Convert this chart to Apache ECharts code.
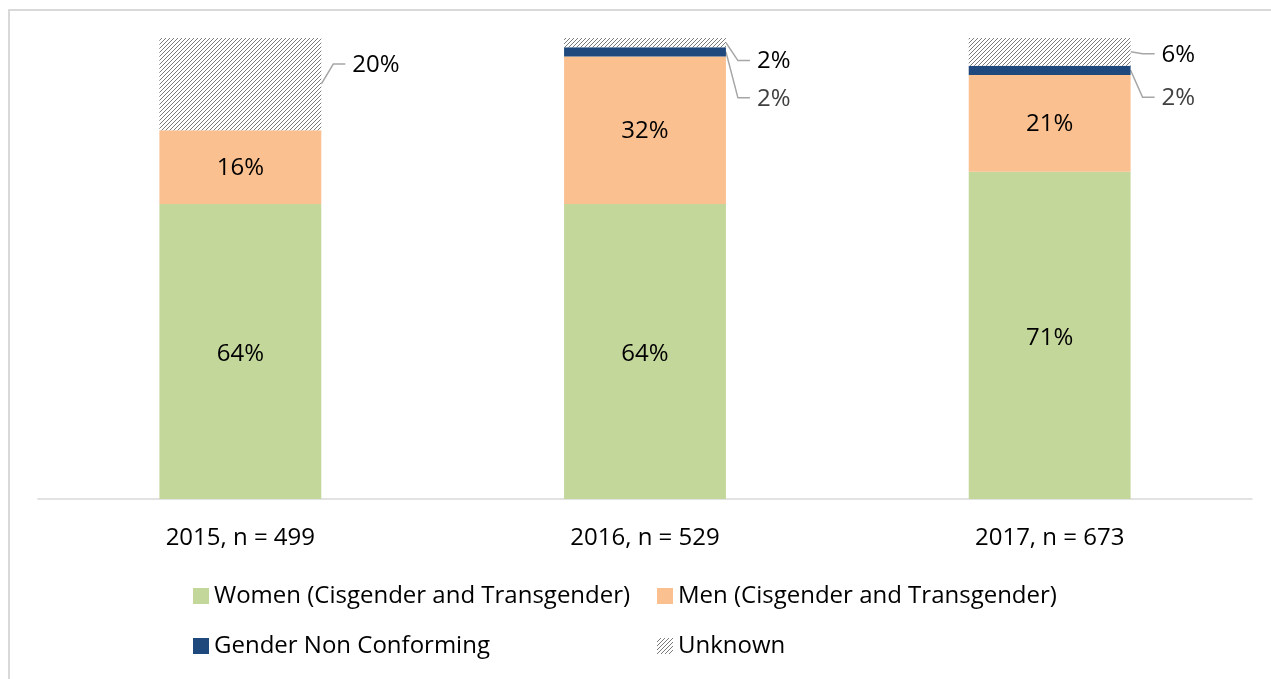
<!DOCTYPE html>
<html>
<head>
<meta charset="utf-8">
<script src="https://cdn.jsdelivr.net/npm/echarts@6/dist/echarts.min.js"></script>
<style>
  html, body { margin: 0; padding: 0; background: #fff; }
  #main { width: 1271px; height: 679px; }
</style>
</head>
<body>
<div id="main"></div>
<script>
// ---- data ----
const categories = ['2015, n = 499', '2016, n = 529', '2017, n = 673'];
const women = [64, 64, 71];
const men = [16, 32, 21];
const gnc = [0, 2, 2];
const unknown = [20, 2, 6];

// ---- layout for outside labels (pixel offsets of label from segment middle) ----
const unknownLabelDy = [-20, 18, 2];
const gncLabelDy = [null, 46, 27];

const FONT = 'Open Sans';
const FS = 24;

// hatch pattern
function makeHatch(color, size) {
  const c = document.createElement('canvas');
  c.width = size; c.height = size;
  const g = c.getContext('2d');
  g.fillStyle = '#fff';
  g.fillRect(0, 0, size, size);
  g.strokeStyle = color;
  g.lineWidth = 1;
  g.beginPath();
  g.moveTo(-1, size + 1); g.lineTo(size + 1, -1);
  g.moveTo(-1, 1); g.lineTo(1, -1);
  g.moveTo(size - 1, size + 1); g.lineTo(size + 1, size - 1);
  g.stroke();
  return c;
}
const hatch = makeHatch('#7a7a7a', 4);

// outside label items: [catIndex, segmentMid, labelValue, dy, kind]
const outsideItems = [];
categories.forEach((c, i) => {
  const base = women[i] + men[i];
  if (gnc[i] > 0 && gncLabelDy[i] !== null) {
    outsideItems.push([i, base + gnc[i] / 2, gnc[i], gncLabelDy[i], 1]);
  }
  outsideItems.push([i, base + gnc[i] + unknown[i] / 2, unknown[i], unknownLabelDy[i], 0]);
});
const outsideColors = ['#000000', '#404040'];

const chart = echarts.init(document.getElementById('main'));
const insideLabel = {
  show: true,
  position: 'inside',
  formatter: p => p.value + '%',
  color: '#000',
  fontFamily: FONT,
  fontSize: FS
};

const legendBase = {
  orient: 'vertical',
  top: 584,
  padding: 0,
  itemWidth: 16, itemHeight: 16, itemGap: 26,
  selectedMode: false,
  icon: 'rect',
  textStyle: { color: '#000', fontFamily: FONT, fontSize: FS, lineHeight: 24 }
};

chart.setOption({
  animation: false,
  textStyle: { fontFamily: FONT },
  graphic: [{
    type: 'rect',
    shape: { x: 9, y: 10, width: 1300, height: 700 },
    style: { fill: 'none', stroke: '#d9d9d9', lineWidth: 2 },
    silent: true
  }],
  grid: { left: 38, right: 19, top: 38, bottom: 180 },
  xAxis: {
    type: 'category',
    data: categories,
    axisLine: { lineStyle: { color: '#d9d9d9', width: 1.5 } },
    axisTick: { show: false },
    axisLabel: { color: '#000', fontFamily: FONT, fontSize: FS, margin: 27 }
  },
  yAxis: {
    type: 'value', min: 0, max: 100, show: false,
    splitLine: { show: false }
  },
  legend: [Object.assign({}, legendBase, {
    left: 193,
    data: ['Women (Cisgender and Transgender)', 'Gender Non Conforming']
  }), Object.assign({}, legendBase, {
    left: 657,
    data: ['Men (Cisgender and Transgender)', 'Unknown']
  })],
  series: [{
    name: 'Women (Cisgender and Transgender)',
    type: 'bar', stack: 'g', barWidth: '40%',
    itemStyle: { color: '#c4d79b' },
    label: Object.assign({}, insideLabel, { offset: [0, 3] }),
    data: women
  }, {
    name: 'Men (Cisgender and Transgender)',
    type: 'bar', stack: 'g',
    itemStyle: { color: '#fac090' },
    label: Object.assign({}, insideLabel, { offset: [0, 1] }),
    data: men
  }, {
    name: 'Gender Non Conforming',
    type: 'bar', stack: 'g',
    itemStyle: { color: '#1f497d' },
    data: gnc
  }, {
    name: 'Unknown',
    type: 'bar', stack: 'g',
    itemStyle: { color: { image: hatch, repeat: 'repeat' } },
    data: unknown
  }, {
    name: 'outsideLabels',
    type: 'custom',
    clip: false,
    silent: true,
    data: outsideItems,
    renderItem: function (params, api) {
      const c = api.coord([api.value(0), api.value(1)]);
      const half = api.size([1, 0])[0] * 0.2;
      const x0 = c[0] + half;
      const y0 = c[1];
      const y1 = y0 + api.value(3);
      const kind = api.value(4);
      return {
        type: 'group',
        children: [{
          type: 'polyline',
          shape: { points: [[x0, y0], [x0 + 12, y1], [x0 + 24, y1]] },
          style: { stroke: '#a6a6a6', lineWidth: 1.5, fill: null }
        }, {
          type: 'text',
          x: x0 + 31, y: y1 + 1,
          style: {
            text: api.value(2) + '%',
            fill: outsideColors[kind],
            font: FS + 'px "' + FONT + '"',
            textAlign: 'left', textVerticalAlign: 'middle'
          }
        }]
      };
    }
  }]
});
</script>
</body>
</html>
